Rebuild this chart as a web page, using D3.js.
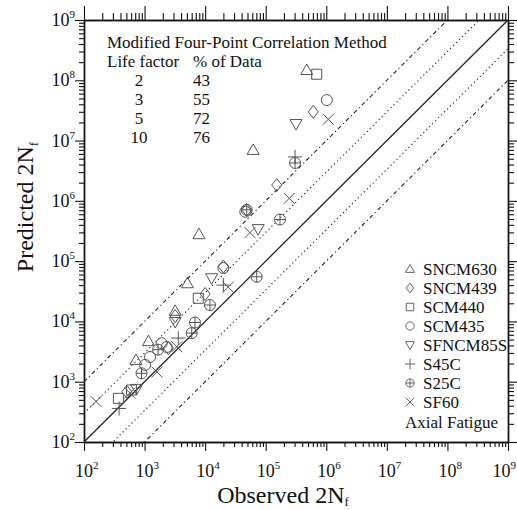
<!DOCTYPE html>
<html><head><meta charset="utf-8">
<script src="https://cdn.jsdelivr.net/npm/d3@7"></script>
<style>
html,body{margin:0;padding:0;background:#fff;}
svg text{font-family:"Liberation Serif","Times New Roman",serif;fill:#111;}
</style></head>
<body><svg id="c" width="517" height="510"></svg>
<script>
// ---- data ----
const seriesNames = ["SNCM630","SNCM439","SCM440","SCM435","SFNCM85S","S45C","S25C","SF60"];
const sncm630X = [4.75e5, 6.2e4, 7.9e3, 5.1e3, 3.2e3, 1.16e3, 7.2e2];
const sncm630Y = [1.48e8, 7.0e6, 2.8e5, 4.3e4, 1.5e4, 4.7e3, 2.3e3];
const sncm439X = [6.1e5, 1.52e5, 4.85e4, 2.0e4, 1.0e4, 3.2e3, 2.47e3, 5.1e2];
const sncm439Y = [3.0e7, 1.83e6, 7.1e5, 8.1e4, 2.85e4, 1.23e4, 3.6e3, 6.8e2];
const scm440X = [6.95e5, 7.7e3, 6.1e2, 3.7e2];
const scm440Y = [1.26e8, 2.42e4, 7.3e2, 5.3e2];
const scm435X = [1.02e6, 4.6e4, 2.0e4, 2.32e3, 1.92e3, 1.23e3, 1.02e3];
const scm435Y = [4.7e7, 6.6e5, 7.7e4, 3.77e3, 4.35e3, 2.57e3, 1.9e3];
const sfncm85sX = [3.16e5, 7.5e4, 1.28e4, 3.2e3, 7.4e2];
const sfncm85sY = [1.88e7, 3.4e5, 5.2e4, 9.8e3, 7.6e2];
const s45cX = [3.05e5, 2.0e4, 3.6e3, 3.8e2];
const s45cY = [5.35e6, 4.0e4, 5.3e3, 3.6e2];
const s25cX = [3.05e5, 4.85e4, 1.72e5, 7.1e4, 1.2e4, 6.8e3, 6.0e3, 1.67e3, 8.9e2];
const s25cY = [4.25e6, 7.1e5, 4.9e5, 5.5e4, 1.87e4, 9.6e3, 6.4e3, 3.4e3, 1.38e3];
const sf60X = [1.08e6, 2.45e5, 5.5e4, 2.4e4, 3.4e3, 1.6e3, 5.7e2, 1.58e2];
const sf60Y = [2.25e7, 1.1e6, 2.97e5, 3.7e4, 3.8e3, 1.45e3, 6.5e2, 4.7e2];
const seriesShapes = ["triUp","diamond","square","circle","triDown","plus","circlePlus","cross"];
const majorTicks = [1e2,1e3,1e4,1e5,1e6,1e7,1e8,1e9];
const tickExponents = ["2","3","4","5","6","7","8","9"];
const lifeFactors = ["2","3","5","10"];
const pctData = ["43","55","72","76"];
const bandFactors = [1, 3, 1/3, 10, 1/10];
const bandStyles = ["solid","dot","dot","dashdot","dashdot"];

// ---- build ----
const seriesX = [sncm630X,sncm439X,scm440X,scm435X,sfncm85sX,s45cX,s25cX,sf60X];
const seriesY = [sncm630Y,sncm439Y,scm440Y,scm435Y,sfncm85sY,s45cY,s25cY,sf60Y];
const svg = d3.select("#c");
const L=84,R=508,T=20,B=442;
const x = d3.scaleLog().domain([1e2,1e9]).range([L,R]);
const y = d3.scaleLog().domain([1e2,1e9]).range([B,T]);
const minors=[];
for(let e=2;e<9;e++) for(let m=2;m<=9;m++) minors.push(m*Math.pow(10,e));

svg.append("clipPath").attr("id","clip").append("rect")
  .attr("x",L).attr("y",T).attr("width",R-L).attr("height",B-T);

function styleAxis(g){ g.selectAll("path.domain").attr("stroke","#111").attr("stroke-width",1.4);
  g.selectAll(".tick line").attr("stroke","#111").attr("stroke-width",1.1);
  g.selectAll(".tick text").remove(); }
function addAxis(gen, tx, ty, vals, size){
  const g=svg.append("g").attr("transform",`translate(${tx},${ty})`)
    .call(gen.tickValues(vals).tickSize(size).tickSizeOuter(0).tickFormat(""));
  styleAxis(g); return g;}
addAxis(d3.axisBottom(x),0,B,minors,5);
addAxis(d3.axisBottom(x),0,B,majorTicks,9);
addAxis(d3.axisTop(x),0,T,minors,7);
addAxis(d3.axisTop(x),0,T,majorTicks,14);
addAxis(d3.axisLeft(y),L,0,minors,5);
addAxis(d3.axisLeft(y),L,0,majorTicks,9);
addAxis(d3.axisRight(y),R,0,minors,6);
addAxis(d3.axisRight(y),R,0,majorTicks,9);

// tick labels
majorTicks.forEach((v,i)=>{
  const last = i===majorTicks.length-1;
  const t=svg.append("text").attr("x",last?516:x(v)-9).attr("y",477).attr("font-size",18)
    .attr("text-anchor",last?"end":"start");
  t.append("tspan").text("10");
  t.append("tspan").attr("dy",-8).attr("font-size",11).text(tickExponents[i]);
  const t2=svg.append("text").attr("x",L-9).attr("y",y(v)+6).attr("font-size",18).attr("text-anchor","end");
  t2.append("tspan").text("10");
  t2.append("tspan").attr("dy",-8).attr("font-size",11).text(tickExponents[i]);
});

// axis titles
const xt=svg.append("text").attr("x",283).attr("y",503).attr("font-size",24).attr("text-anchor","middle");
xt.append("tspan").text("Observed 2N");
xt.append("tspan").attr("dy",3).attr("font-size",13).text("f");
const yt=svg.append("text").attr("transform","translate(33,207) rotate(-90)").attr("font-size",24).attr("text-anchor","middle");
yt.append("tspan").text("Predicted 2N");
yt.append("tspan").attr("dy",5).attr("font-size",13).text("f");

// band lines
const lg=svg.append("g").attr("clip-path","url(#clip)");
bandFactors.forEach((f,i)=>{
  const st=bandStyles[i];
  lg.append("line").attr("x1",x(1e2)).attr("y1",y(1e2*f)).attr("x2",x(1e9)).attr("y2",y(1e9*f))
    .attr("stroke","#222")
    .attr("stroke-width", st==="solid"?1.3:1.1)
    .attr("stroke-dasharray", st==="solid"?null:(st==="dot"?"1.2,3":"4,3,1.2,3"));
});

// markers
function shapePath(shape,s){
  const k=s;
  switch(shape){
    case "triUp": return `M0,${-6*k}L${6*k},${4.5*k}L${-6*k},${4.5*k}Z`;
    case "triDown": return `M0,${6*k}L${6*k},${-4.5*k}L${-6*k},${-4.5*k}Z`;
    case "square": return `M${-5*k},${-5*k}h${10*k}v${10*k}h${-10*k}Z`;
    case "diamond": return `M0,${-6.5*k}L${5*k},0L0,${6.5*k}L${-5*k},0Z`;
    case "circle": return d3.arc()({innerRadius:0,outerRadius:5.5*k,startAngle:0,endAngle:2*Math.PI});
    case "plus": return `M${-7*k},0H${7*k}M0,${-7*k}V${7*k}`;
    case "cross": return `M${-5.5*k},${-5.5*k}L${5.5*k},${5.5*k}M${5.5*k},${-5.5*k}L${-5.5*k},${5.5*k}`;
    case "circlePlus": return d3.arc()({innerRadius:0,outerRadius:5.5*k,startAngle:0,endAngle:2*Math.PI})+`M${-5.5*k},0H${5.5*k}M0,${-5.5*k}V${5.5*k}`;
  }
}
const mg=svg.append("g");
seriesNames.forEach((n,si)=>{
  seriesX[si].forEach((xv,j)=>{
    mg.append("path").attr("d",shapePath(seriesShapes[si],1))
      .attr("transform",`translate(${x(xv)},${y(seriesY[si][j])})`)
      .attr("fill","none").attr("stroke","#555").attr("stroke-width",1);
  });
});

// legend
seriesNames.forEach((n,i)=>{
  const ly=269+i*19;
  svg.append("path").attr("d",shapePath(seriesShapes[i],0.75))
    .attr("transform",`translate(410,${ly})`).attr("fill","none").attr("stroke","#666").attr("stroke-width",1);
  svg.append("text").attr("x",423).attr("y",ly+6).attr("font-size",17).text(n);
});
svg.append("text").attr("x",405).attr("y",269+8*19+7).attr("font-size",17).text("Axial Fatigue");

// annotation table
svg.append("text").attr("x",107).attr("y",48).attr("font-size",17).text("Modified Four-Point Correlation Method");
svg.append("text").attr("x",107).attr("y",67).attr("font-size",17).text("Life factor");
svg.append("text").attr("x",193).attr("y",67).attr("font-size",17).text("% of Data");
lifeFactors.forEach((f,i)=>{
  const by=85.5+i*19;
  svg.append("text").attr("x",139).attr("y",by).attr("font-size",17).attr("text-anchor","middle").text(f);
  svg.append("text").attr("x",193).attr("y",by).attr("font-size",17).text(pctData[i]);
});
</script></body></html>
